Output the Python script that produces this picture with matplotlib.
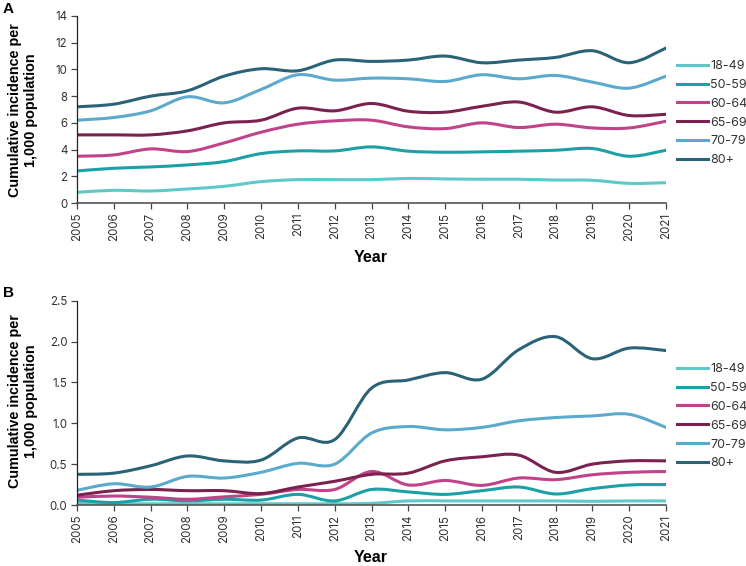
import numpy as np
import matplotlib
matplotlib.use('Agg')
import matplotlib.pyplot as plt
from matplotlib.path import Path
from matplotlib.patches import PathPatch
from matplotlib.lines import Line2D

# Dữ liệu
years = list(range(2005, 2022))
groups = ['18-49', '50-59', '60-64', '65-69', '70-79', '80+']
colors = ['#5ec8c8', '#1aa0a6', '#c0438a', '#7b2150', '#5ba9cd', '#2a6377']

# Panel A
a_18_49 = [0.8, 0.95, 0.9, 1.05, 1.25, 1.6, 1.75, 1.75, 1.75, 1.84, 1.8, 1.78, 1.78, 1.72, 1.7, 1.47, 1.52]
a_50_59 = [2.4, 2.6, 2.7, 2.85, 3.1, 3.7, 3.9, 3.9, 4.2, 3.88, 3.8, 3.83, 3.88, 3.95, 4.08, 3.5, 3.95]
a_60_64 = [3.5, 3.6, 4.05, 3.85, 4.5, 5.3, 5.9, 6.15, 6.2, 5.7, 5.57, 6.0, 5.65, 5.9, 5.62, 5.62, 6.12]
a_65_69 = [5.1, 5.1, 5.1, 5.4, 6.0, 6.2, 7.1, 6.9, 7.45, 6.87, 6.8, 7.24, 7.56, 6.8, 7.2, 6.55, 6.64]
a_70_79 = [6.2, 6.4, 6.9, 7.95, 7.5, 8.5, 9.6, 9.2, 9.35, 9.3, 9.1, 9.6, 9.3, 9.55, 9.05, 8.6, 9.5]
a_80 = [7.2, 7.4, 8.0, 8.4, 9.5, 10.05, 9.9, 10.7, 10.6, 10.7, 11.0, 10.5, 10.7, 10.9, 11.4, 10.5, 11.6]

# Panel B
b_18_49 = [0.02, 0.015, 0.015, 0.015, 0.015, 0.015, 0.015, 0.015, 0.02, 0.05, 0.05, 0.05, 0.05, 0.05, 0.045, 0.05, 0.05]
b_50_59 = [0.06, 0.03, 0.07, 0.05, 0.07, 0.06, 0.13, 0.05, 0.19, 0.16, 0.13, 0.175, 0.22, 0.135, 0.2, 0.245, 0.25]
b_60_64 = [0.095, 0.11, 0.095, 0.07, 0.1, 0.13, 0.19, 0.19, 0.41, 0.245, 0.3, 0.24, 0.33, 0.31, 0.37, 0.4, 0.41]
b_65_69 = [0.12, 0.175, 0.19, 0.175, 0.175, 0.14, 0.22, 0.29, 0.375, 0.39, 0.54, 0.59, 0.61, 0.4, 0.5, 0.54, 0.54]
b_70_79 = [0.18, 0.26, 0.22, 0.35, 0.33, 0.4, 0.51, 0.5, 0.88, 0.96, 0.92, 0.95, 1.03, 1.07, 1.09, 1.11, 0.95]
b_80 = [0.375, 0.39, 0.48, 0.6, 0.54, 0.55, 0.82, 0.8, 1.43, 1.53, 1.62, 1.54, 1.9, 2.06, 1.79, 1.92, 1.89]

series_a = [a_18_49, a_50_59, a_60_64, a_65_69, a_70_79, a_80]
series_b = [b_18_49, b_50_59, b_60_64, b_65_69, b_70_79, b_80]

TICK_FONT = ['Inter', 'DejaVu Sans']
BOLD_FONT = ['Liberation Sans', 'DejaVu Sans']


def smooth_line(ax, x, y, color):
    # đường cong Catmull-Rom vẽ bằng Bezier bậc 3
    x = np.asarray(x, float)
    y = np.asarray(y, float)
    px = np.concatenate([[x[0]], x, [x[-1]]])
    py = np.concatenate([[y[0]], y, [y[-1]]])
    verts = [(x[0], y[0])]
    codes = [Path.MOVETO]
    for i in range(1, len(px) - 2):
        c1 = (px[i] + (px[i + 1] - px[i - 1]) / 6, py[i] + (py[i + 1] - py[i - 1]) / 6)
        c2 = (px[i + 1] - (px[i + 2] - px[i]) / 6, py[i + 1] - (py[i + 2] - py[i]) / 6)
        verts += [c1, c2, (px[i + 1], py[i + 1])]
        codes += [Path.CURVE4] * 3
    ax.add_patch(PathPatch(Path(verts, codes), facecolor='none', edgecolor=color,
                           lw=2.2, capstyle='round', joinstyle='round'))


fig = plt.figure(figsize=(7.46, 5.66), dpi=100)
W, H = 746, 566

panels = [
    ('A', series_a, 14, np.arange(0, 15, 2), lambda v: f'{v:.0f}', 16, 203, 9, 258, 110, 69),
    ('B', series_b, 2.5, np.arange(0, 2.6, 0.5), lambda v: f'{v:.1f}', 300.7, 505, 293, 558, 401, 372),
]

for letter, series, ymax, yt, fmt, top, bot, ly, yearY, ylabY, legY in panels:
    ax = fig.add_axes([77 / W, 1 - bot / H, 589 / W, (bot - top) / H])
    for vals, c in zip(series, colors):
        smooth_line(ax, years, vals, c)
    ax.set_xlim(2005, 2021)
    ax.set_ylim(0, ymax)
    ax.set_xticks(years)
    ax.set_xticklabels([str(y) for y in years], rotation=90, family=TICK_FONT,
                       fontsize=8.3, color='#333333')
    ax.set_yticks(yt)
    ax.set_yticklabels([fmt(v) for v in yt], family=TICK_FONT, fontsize=8.3, color='#333333')
    for s in ['top', 'right']:
        ax.spines[s].set_visible(False)
    ax.spines['left'].set_color('#222222')
    ax.spines['bottom'].set_color('#555555')
    ax.spines['left'].set_linewidth(0.9)
    ax.spines['bottom'].set_linewidth(1.2)
    ax.tick_params(axis='both', direction='out', length=4, width=0.9, color='#444444', pad=3)

    fig.text(3 / W, 1 - ly / H, letter, fontsize=11, fontweight='bold', family=BOLD_FONT,
             va='center', ha='left')
    fig.text(371 / W, 1 - yearY / H, 'Year', fontsize=11.5, fontweight='bold', family=BOLD_FONT,
             ha='center', va='center')
    fig.text(23 / W, 1 - ylabY / H, 'Cumulative incidence per\n1,000 population', fontsize=10.4,
             fontweight='bold', family=BOLD_FONT, rotation=90, ha='center', va='center',
             multialignment='center', linespacing=1.2)

    handles = [Line2D([], [], color=c, lw=2.2) for c in colors]
    leg = fig.legend(handles, groups, loc='upper left',
                     bbox_to_anchor=(677 / W, 1 - (legY - 9) / H), frameon=False,
                     handlelength=2.5, handletextpad=0.15, labelspacing=0.55,
                     borderaxespad=0, borderpad=0,
                     prop={'family': TICK_FONT, 'size': 9})
    for t in leg.get_texts():
        t.set_color('#333333')

fig.savefig('out.png', dpi=100)
